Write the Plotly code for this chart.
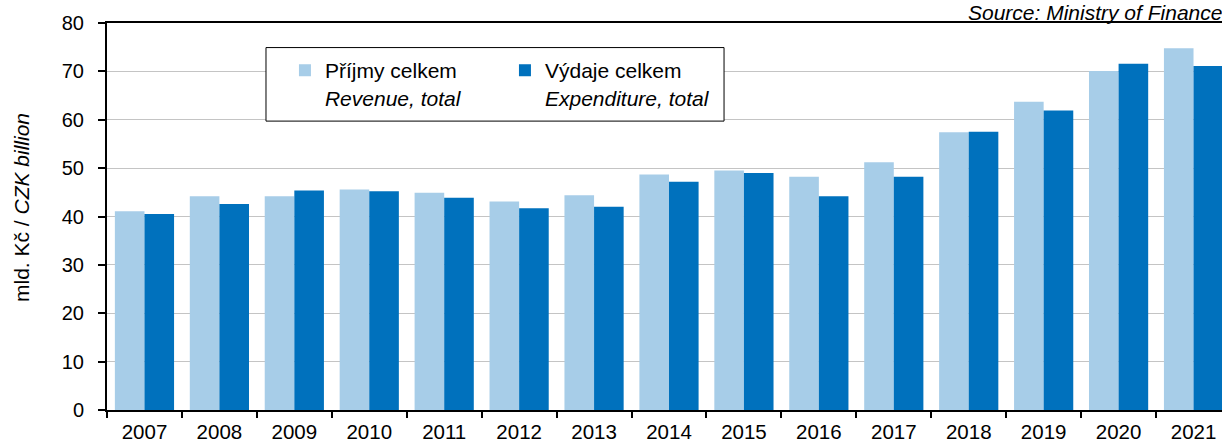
import plotly.graph_objects as go

# roky a hodnoty (mld. Kč)
roky = ["2007", "2008", "2009", "2010", "2011", "2012", "2013", "2014",
        "2015", "2016", "2017", "2018", "2019", "2020", "2021"]
prijmy = [41.1, 44.2, 44.2, 45.6, 44.9, 43.1, 44.4, 48.7,
          49.5, 48.2, 51.2, 57.4, 63.7, 70.1, 74.8]
vydaje = [40.5, 42.6, 45.4, 45.2, 43.9, 41.7, 42.0, 47.2,
          49.0, 44.2, 48.2, 57.5, 61.9, 71.6, 71.1]

font = "Liberation Sans, Arial, sans-serif"

fig = go.Figure()
fig.add_trace(go.Bar(x=roky, y=prijmy, name="Příjmy celkem<br><i>Revenue, total</i>",
                     marker=dict(color="#A7CDE8", line=dict(width=0))))
fig.add_trace(go.Bar(x=roky, y=vydaje, name="Výdaje celkem<br><i>Expenditure, total</i>",
                     marker=dict(color="#0071BD", line=dict(width=0))))

# rámeček legendy
fig.add_shape(type="rect", xref="paper", yref="paper",
              x0=0.1426, x1=0.5534, y0=0.7465, y1=0.9365,
              line=dict(color="black", width=1), fillcolor="white", layer="above")

fig.add_annotation(text="<i>Source: Ministry of Finance</i>", xref="paper", yref="paper",
                   x=1.002, y=1.0, xanchor="right", yanchor="bottom", yshift=-3,
                   showarrow=False, font=dict(size=21, color="black", family=font))

# popisek osy y (posunutý trochu nahoru jako v originále)
fig.add_annotation(text="mld. Kč / <i>CZK billion</i>", xref="paper", yref="paper",
                   x=-0.0762, y=0.522, xanchor="center", yanchor="middle",
                   textangle=-90, showarrow=False,
                   font=dict(size=21, color="black", family=font))

fig.update_layout(
    width=1222, height=443,
    margin=dict(l=107, r=0, t=23, b=33, autoexpand=False),
    paper_bgcolor="white", plot_bgcolor="white",
    font=dict(family=font, size=20, color="black"),
    barmode="group", bargap=0.21, bargroupgap=0,
    showlegend=True,
    legend=dict(orientation="h", x=0.1596, y=0.93, xanchor="left", yanchor="top",
                bgcolor="rgba(0,0,0,0)", borderwidth=0, valign="top",
                entrywidth=175, entrywidthmode="pixels",
                font=dict(size=21, family=font), traceorder="normal"),
    xaxis=dict(type="category", range=[-0.5, 14.38], tickson="boundaries",
               ticks="outside", ticklen=6, tickwidth=1.5, tickcolor="black",
               showline=True, linecolor="black", linewidth=2, mirror=True,
               showgrid=False, ticklabelstandoff=2, automargin=False,
               tickfont=dict(size=20.5)),
    yaxis=dict(range=[0, 80], dtick=10, ticks="outside", ticklen=7, tickwidth=1.5,
               tickcolor="black", showline=True, linecolor="black", linewidth=2,
               showgrid=True, gridcolor="#C4C4C4", gridwidth=1, zeroline=False,
               ticklabelstandoff=10, automargin=False, tickfont=dict(size=20)),
)

# bez okraje stránky, aby graf začínal v levém horním rohu
fig.write_html("out.html", config={"displayModeBar": False},
               post_script="document.body.style.margin='0';")
